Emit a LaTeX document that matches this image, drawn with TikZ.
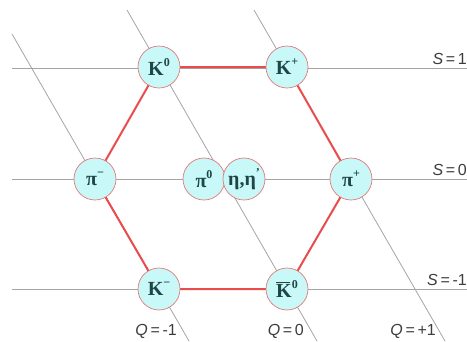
\documentclass[tikz,border=0pt]{standalone}
\usepackage{fontspec}
\setmainfont{Liberation Serif}
\newfontfamily\labfont{Liberation Sans}
\usetikzlibrary{backgrounds}
\definecolor{gridgray}{RGB}{165,165,165}
\definecolor{hexred}{RGB}{232,76,76}
\definecolor{ballfill}{RGB}{200,248,248}
\definecolor{balledge}{RGB}{225,120,120}
\definecolor{balltext}{RGB}{30,70,70}
\definecolor{labtext}{RGB}{60,60,60}
\newcommand{\sups}[1]{\raisebox{0.45em}{\fontsize{12}{12}\selectfont #1}}
\tikzset{
  particle/.style={circle, draw=balledge, line width=0.7pt, fill=ballfill,
    minimum size=42pt, inner sep=0pt, text=balltext,
    font=\fontsize{20}{20}\selectfont\bfseries},
  gridline/.style={draw=gridgray, line width=0.8pt},
  hexedge/.style={draw=hexred, line width=2pt},
  qlabel/.style={font=\labfont\fontsize{16}{16}\selectfont, text=labtext, inner sep=0pt},
}
\begin{document}
\begin{tikzpicture}[x=1pt,y=-1pt]
\useasboundingbox (0,0) rectangle (467,341);
% particles
\node[particle] (K0)  at (159,67)  {K\sups{0}};
\node[particle] (Kp)  at (287,67)  {K\sups{+}};
\node[particle] (pim) at (95,179)  {π\sups{\textminus}};
\node[particle] (pip) at (351,179) {π\sups{+}};
\node[particle] (Km)  at (159,289) {K\sups{\textminus}};
\node[particle] (Kb0) at (287,289) {\rlap{\rule[0.72em]{0.68em}{0.8pt}}K\sups{0}};
\node[particle] (pi0) at (204,179) {π\sups{0}};
\node[particle] (eta) at (244,179) {η,η\sups{\textquoteright}};
% grid coordinates
\coordinate (s1l) at (12,68);  \coordinate (s1r) at (467,68);
\coordinate (s0l) at (12,179); \coordinate (s0r) at (467,179);
\coordinate (sml) at (12,289); \coordinate (smr) at (467,289);
\coordinate (qmt) at (12,34);  \coordinate (qmb) at (189,341);
\coordinate (q0t) at (127,10); \coordinate (q0b) at (317,341);
\coordinate (qpt) at (254,10); \coordinate (qpb) at (445,341);
\begin{scope}[on background layer]
  \draw[gridline] (s1l) -- (s1r);
  \draw[gridline] (s0l) -- (s0r);
  \draw[gridline] (sml) -- (smr);
  \draw[gridline] (qmt) -- (qmb);
  \draw[gridline] (q0t) -- (q0b);
  \draw[gridline] (qpt) -- (qpb);
  \draw[hexedge] (K0.center) -- (Kp.center) -- (pip.center) -- (Kb0.center)
     -- (Km.center) -- (pim.center) -- cycle;
\end{scope}
% labels
\node[qlabel, anchor=south east] (lS1) at (467,65) {{\itshape S}\,=\,1};
\node[qlabel, anchor=south east] (lS0) at (467,176) {{\itshape S}\,=\,0};
\node[qlabel, anchor=south east] (lSm) at (467,286) {{\itshape S}\,=\,-1};
\node[qlabel, anchor=east] (lQm) at (177,331) {{\itshape Q}\,=\,-1};
\node[qlabel, anchor=east] (lQ0) at (304,331) {{\itshape Q}\,=\,0};
\node[qlabel, anchor=east] (lQp) at (436,331) {{\itshape Q}\,=\,+1};
\end{tikzpicture}
\end{document}
